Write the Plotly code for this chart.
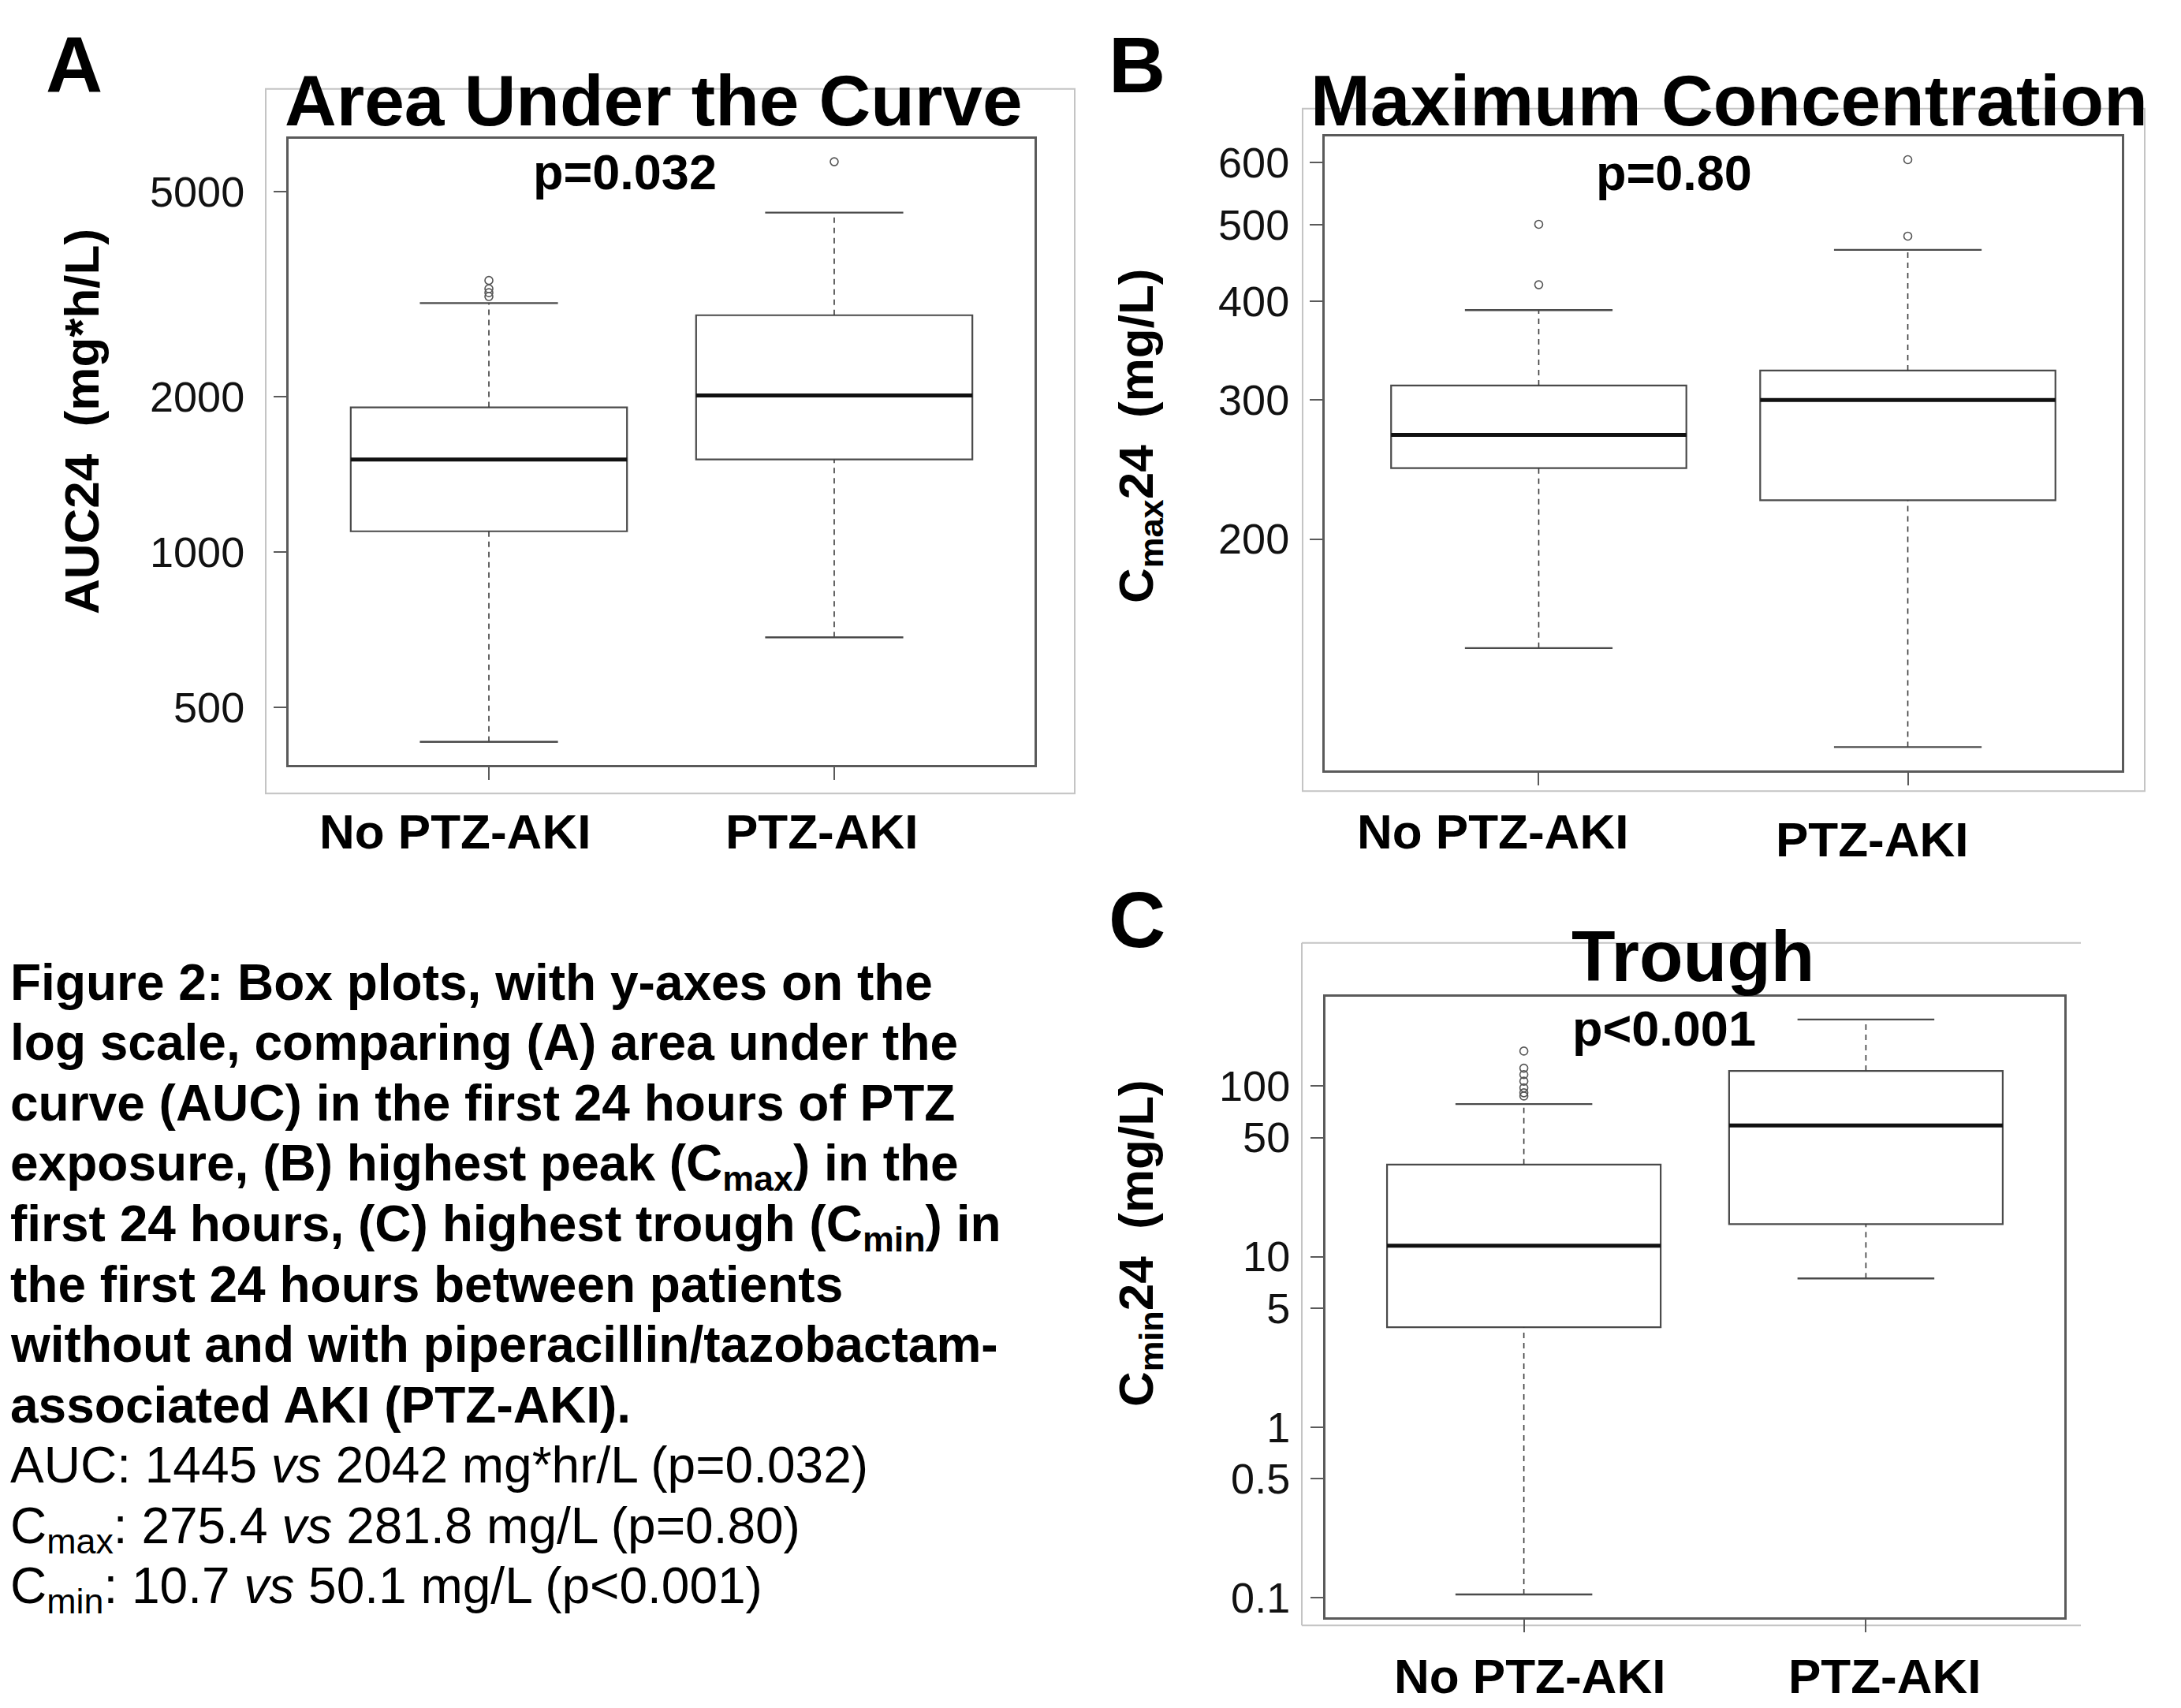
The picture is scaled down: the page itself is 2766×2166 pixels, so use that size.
import math
import plotly.graph_objects as go

W, H = 2766, 2166
FONT = "Liberation Sans, Arial, Helvetica, sans-serif"

# ---------------- data ----------------
categories = ["No PTZ-AKI", "PTZ-AKI"]
positions = [1, 2]

# Panel A: AUC24 (mg*h/L)
auc_lower = [429, 684]
auc_q1 = [1098, 1513]
auc_median = [1513, 2014]
auc_q3 = [1909, 2880]
auc_upper = [3040, 4553]
auc_outliers_no = [3131, 3185, 3241, 3364]
auc_outliers_ptz = [5714]
auc_ticks = [500, 1000, 2000, 5000]
auc_ticktext = ["500", "1000", "2000", "5000"]

# Panel B: Cmax24 (mg/L)
cmax_lower = [145.5, 109]
cmax_q1 = [246, 224]
cmax_median = [271, 300]
cmax_q3 = [313, 327]
cmax_upper = [390, 465]
cmax_outliers_no = [420, 501]
cmax_outliers_ptz = [484, 605]
cmax_ticks = [200, 300, 400, 500, 600]
cmax_ticktext = ["200", "300", "400", "500", "600"]

# Panel C: Cmin24 (mg/L)
cmin_lower = [0.104, 7.44]
cmin_q1 = [3.85, 15.5]
cmin_median = [11.6, 58.8]
cmin_q3 = [34.7, 123]
cmin_upper = [78.6, 246.5]
cmin_outliers_no = [87.6, 91.5, 97.8, 107, 117, 127.6, 160.8]
cmin_outliers_ptz = []
cmin_ticks = [0.1, 0.5, 1, 5, 10, 50, 100]
cmin_ticktext = ["0.1", "0.5", "1", "5", "10", "50", "100"]

panel_titles = ["Area Under the Curve", "Maximum Concentration", "Trough"]
p_values = ["p=0.032", "p=0.80", "p&lt;0.001"]
y_titles = ["AUC24  (mg*h/L)", "C<sub>max</sub>24  (mg/L)", "C<sub>min</sub>24  (mg/L)"]
panel_letters = ["A", "B", "C"]

caption_bold = [
    "Figure 2: Box plots, with y-axes on the",
    "log scale, comparing (A) area under the",
    "curve (AUC) in the first 24 hours of PTZ",
    "exposure, (B) highest peak (C<sub>max</sub>) in the",
    "first 24 hours, (C) highest trough (C<sub>min</sub>) in",
    "the first 24 hours between patients",
    "without and with piperacillin/tazobactam-",
    "associated AKI (PTZ-AKI).",
]
caption_regular = [
    "AUC: 1445 <i>vs</i> 2042 mg*hr/L (p=0.032)",
    "C<sub>max</sub>: 275.4 <i>vs</i> 281.8 mg/L (p=0.80)",
    "C<sub>min</sub>: 10.7 <i>vs</i> 50.1 mg/L (p&lt;0.001)",
]

# ---------------- layout geometry (pixels) ----------------
panels = [
    dict(box=(366, 176, 1312, 972), frame=(337, 113, 1363, 1008), frame_sides="all",
         title_xy=(829, 128), p_xy=(792, 218), ytitle_xy=(103, 536), letter_xy=(94, 82),
         label_xy=[(577, 1056), (1042, 1056)], standoff=26),
    dict(box=(1680, 173, 2691, 979), frame=(1652, 138, 2720, 1005), frame_sides="all",
         title_xy=(2193, 128), p_xy=(2123, 219), ytitle_xy=(1445, 554), letter_xy=(1442, 82),
         label_xy=[(1893, 1056), (2374, 1066)], standoff=15),
    dict(box=(1681, 1266, 2618, 2055), frame=(1651, 1198, 2639, 2065), frame_sides="open",
         title_xy=(2147, 1215), p_xy=(2110, 1306), ytitle_xy=(1445, 1580), letter_xy=(1442, 1168),
         label_xy=[(1940, 2129), (2390, 2129)], standoff=15),
]

stats = [
    (auc_lower, auc_q1, auc_median, auc_q3, auc_upper, [auc_outliers_no, auc_outliers_ptz],
     auc_ticks, auc_ticktext),
    (cmax_lower, cmax_q1, cmax_median, cmax_q3, cmax_upper, [cmax_outliers_no, cmax_outliers_ptz],
     cmax_ticks, cmax_ticktext),
    (cmin_lower, cmin_q1, cmin_median, cmin_q3, cmin_upper, [cmin_outliers_no, cmin_outliers_ptz],
     cmin_ticks, cmin_ticktext),
]


def px(x):
    return x / W


def py(y):
    return 1 - y / H


BOX_W = 0.8
CAP_W = 0.4
LINE_C = "#4a4a4a"
FRAME_C = "#5a5a5a"
OUTER_C = "#c4c4c4"

fig = go.Figure()
annotations = []
shapes = []
layout_axes = {}


def ann(text, xy, size, bold=True, angle=0, xanchor="center"):
    annotations.append(dict(
        text=text, x=px(xy[0]), y=py(xy[1]), xref="paper", yref="paper",
        xanchor=xanchor, yanchor="middle", showarrow=False, textangle=angle,
        borderpad=0, borderwidth=0,
        font=dict(family=FONT, size=size, color="#000000",
                  weight="bold" if bold else "normal")))


for i, (pn, st) in enumerate(zip(panels, stats)):
    lower, q1, med, q3, upper, outl, ticks, ticktext = st
    n = "" if i == 0 else str(i + 1)
    xa, ya = "x" + n, "y" + n

    # box bodies (quartiles + median) via the library's box trace
    fig.add_trace(go.Box(
        x=positions, q1=q1, median=med, q3=q3, lowerfence=q1, upperfence=q3,
        width=BOX_W, whiskerwidth=0, boxpoints=False, fillcolor="white",
        line=dict(color=LINE_C, width=2.2), xaxis=xa, yaxis=ya,
        showlegend=False, hoverinfo="skip"))

    wx, wy, cx, cy, mx, my = [], [], [], [], [], []
    for p, lo, a, m, b, hi in zip(positions, lower, q1, med, q3, upper):
        wx += [p, p, None, p, p, None]
        wy += [lo, a, None, b, hi, None]
        cx += [p - CAP_W / 2, p + CAP_W / 2, None, p - CAP_W / 2, p + CAP_W / 2, None]
        cy += [lo, lo, None, hi, hi, None]
        mx += [p - BOX_W / 2, p + BOX_W / 2, None]
        my += [m, m, None]
    # dashed whiskers
    fig.add_trace(go.Scatter(x=wx, y=wy, mode="lines", xaxis=xa, yaxis=ya,
                             line=dict(color="#3a3a3a", width=1.6, dash="7px,6px"),
                             showlegend=False, hoverinfo="skip"))
    # whisker staples
    fig.add_trace(go.Scatter(x=cx, y=cy, mode="lines", xaxis=xa, yaxis=ya,
                             line=dict(color=LINE_C, width=2.4),
                             showlegend=False, hoverinfo="skip"))
    # thick medians
    fig.add_trace(go.Scatter(x=mx, y=my, mode="lines", xaxis=xa, yaxis=ya,
                             line=dict(color="#111111", width=5),
                             showlegend=False, hoverinfo="skip"))
    # outliers
    ox, oy = [], []
    for p, vals in zip(positions, outl):
        ox += [p] * len(vals)
        oy += list(vals)
    if ox:
        fig.add_trace(go.Scatter(x=ox, y=oy, mode="markers", xaxis=xa, yaxis=ya,
                                 marker=dict(symbol="circle-open", size=10, color="#555555",
                                             line=dict(width=1.6)),
                                 showlegend=False, hoverinfo="skip"))

    # axis ranges as R does them (4 % extension)
    allv = list(lower) + list(upper) + [v for o in outl for v in o]
    lo_l, hi_l = math.log10(min(allv)), math.log10(max(allv))
    pad = 0.04 * (hi_l - lo_l)
    xlo, xhi = 0.5, len(positions) + 0.5
    xpad = 0.04 * (xhi - xlo)

    x0, y0, x1, y1 = pn["box"]
    layout_axes["xaxis" + n] = dict(
        domain=[px(x0), px(x1)], anchor=ya, range=[xlo - xpad, xhi + xpad],
        tickvals=positions, showticklabels=False, ticks="outside", ticklen=16,
        tickwidth=2, tickcolor=FRAME_C, showline=True, mirror=True, linecolor=FRAME_C,
        linewidth=3, showgrid=False, zeroline=False, fixedrange=True)
    layout_axes["yaxis" + n] = dict(
        domain=[py(y1), py(y0)], anchor=xa, type="log", range=[lo_l - pad, hi_l + pad],
        tickvals=ticks, ticktext=ticktext, ticks="outside", ticklen=16, tickwidth=2,
        tickcolor=FRAME_C, tickfont=dict(family=FONT, size=54, color="#111111"),
        ticklabelstandoff=pn["standoff"], showline=True, mirror=True, linecolor=FRAME_C,
        linewidth=3, showgrid=False, zeroline=False, fixedrange=True)

    # outer light frame
    fx0, fy0, fx1, fy1 = pn["frame"]
    if pn["frame_sides"] == "all":
        shapes.append(dict(type="rect", xref="paper", yref="paper",
                           x0=px(fx0), x1=px(fx1), y0=py(fy1), y1=py(fy0),
                           line=dict(color=OUTER_C, width=2), layer="below"))
    else:
        for (ax0, ay0, ax1, ay1) in [(fx0, fy0, fx1, fy0), (fx0, fy0, fx0, fy1),
                                     (fx0, fy1, fx1, fy1)]:
            shapes.append(dict(type="line", xref="paper", yref="paper",
                               x0=px(ax0), x1=px(ax1), y0=py(ay0), y1=py(ay1),
                               line=dict(color=OUTER_C, width=2), layer="below"))

    ann(panel_titles[i], pn["title_xy"], 91)
    ann(p_values[i], pn["p_xy"], 63)
    ann(y_titles[i], pn["ytitle_xy"], 62, angle=-90)
    ann(panel_letters[i], pn["letter_xy"], 100)
    for cat, lxy in zip(categories, pn["label_xy"]):
        ann(cat, lxy, 62)

# caption block
cap_lines = [(t, True) for t in caption_bold] + [(t, False) for t in caption_regular]
for k, (t, bold) in enumerate(cap_lines):
    yc = 1247 + k * 76.7
    annotations.append(dict(
        text=t, x=px(13), y=py(yc - 35), xref="paper", yref="paper",
        xanchor="left", yanchor="top", showarrow=False, borderpad=0, borderwidth=0,
        font=dict(family=FONT, size=64, color="#000000",
                  weight="bold" if bold else "normal")))

fig.update_layout(
    width=W, height=H, margin=dict(l=0, r=0, t=0, b=0, pad=0),
    paper_bgcolor="white", plot_bgcolor="white", showlegend=False,
    annotations=annotations, shapes=shapes, **layout_axes)

fig.write_html("out.html", config={"displayModeBar": False},
               post_script="document.body.style.margin='0';")
